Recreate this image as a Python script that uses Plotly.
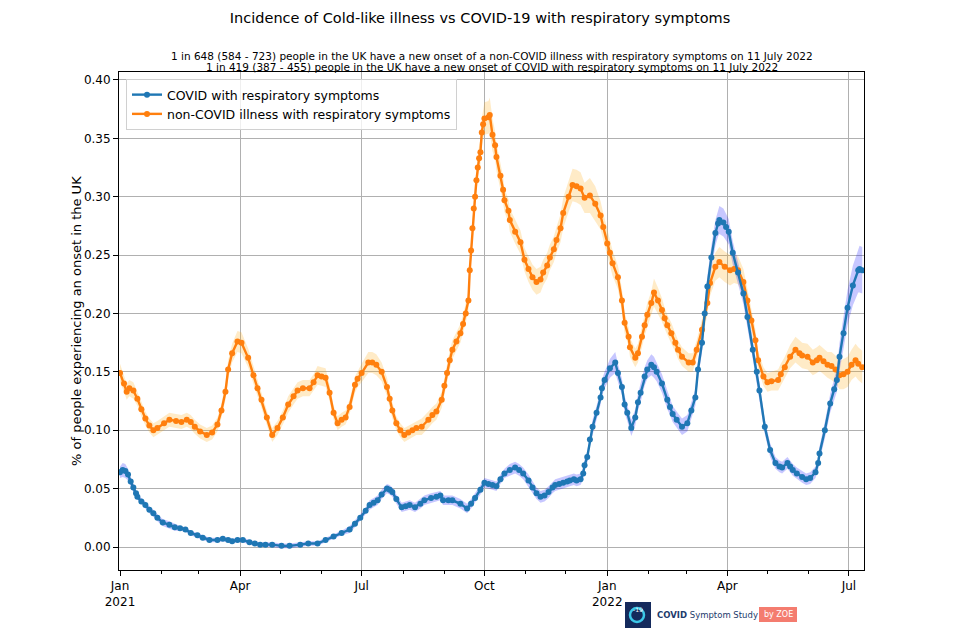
import pandas as pd
import plotly.graph_objects as go

# ---------------- data ----------------
START = "2021-01-01"  # day 0

covid_days = [0, 2, 4, 6, 8, 10, 12, 13, 16, 19,
              22, 25, 28, 32, 37, 41, 45, 49, 53, 58,
              62, 67, 73, 77, 81, 84, 88, 92, 97, 101,
              105, 109, 114, 121, 127, 135, 141, 148, 154, 160,
              166, 172, 176, 180, 184, 187, 190, 193, 196, 200,
              202, 204, 207, 211, 214, 217, 221, 225, 228, 233,
              237, 240, 242, 246, 249, 255, 260, 263, 266, 270,
              273, 276, 279, 282, 285, 288, 292, 296, 299, 302,
              306, 309, 312, 315, 318, 321, 324, 326, 329, 332,
              335, 337, 340, 342, 345, 347, 348, 350, 352, 354,
              357, 360, 361, 363, 367, 371, 373, 376, 378, 380,
              383, 386, 388, 390, 393, 395, 398, 400, 402, 406,
              410, 412, 414, 417, 421, 425, 428, 431, 433, 436,
              438, 440, 443, 446, 448, 449, 452, 454, 456, 459,
              463, 467, 470, 474, 477, 479, 483, 487, 491, 494,
              496, 500, 502, 504, 507, 511, 514, 517, 521, 523,
              524, 528, 532, 535, 537, 539, 542, 545, 549, 553,
              554, 556]
covid_vals = [.064, .066, .065, .062, .056, .051, .046, .043, .039, .036,
              .032, .029, .025, .021, .019, .017, .016, .015, .012, .010,
              .008, .006, .006, .007, .006, .005, .006, .006, .004, .003,
              .002, .002, .002, .001, .001, .002, .003, .003, .006, .009,
              .012, .015, .020, .025, .031, .036, .038, .040, .045, .050,
              .049, .047, .041, .034, .035, .036, .034, .037, .040, .042,
              .043, .044, .040, .040, .040, .037, .033, .037, .042, .049,
              .055, .054, .053, .052, .058, .063, .066, .068, .066, .063,
              .057, .051, .046, .043, .044, .047, .051, .053, .054, .055,
              .056, .057, .058, .057, .058, .063, .070, .077, .092, .103,
              .115, .128, .136, .143, .153, .158, .149, .137, .122, .115,
              .102, .111, .124, .132, .146, .152, .156, .154, .150, .140,
              .126, .120, .114, .109, .103, .106, .117, .128, .152, .175,
              .200, .223, .248, .269, .277, .280, .278, .274, .270, .252,
              .235, .217, .197, .169, .150, .134, .103, .083, .072, .069,
              .068, .072, .069, .066, .063, .060, .058, .059, .064, .072,
              .080, .100, .123, .135, .143, .163, .183, .205, .224, .237,
              .238, .237]
covid_ci = [.005, .006, .006, .005, .004, .004, .004, .003, .003, .003,
            .003, .003, .003, .003, .003, .003, .002, .002, .002, .002,
            .002, .002, .002, .002, .002, .002, .002, .002, .002, .002,
            .002, .002, .002, .002, .002, .002, .002, .002, .002, .002,
            .002, .003, .003, .003, .003, .004, .004, .004, .004, .004,
            .004, .004, .004, .004, .004, .004, .004, .004, .004, .004,
            .004, .004, .004, .004, .004, .004, .004, .004, .004, .004,
            .004, .004, .004, .004, .004, .004, .005, .005, .005, .005,
            .005, .005, .005, .005, .005, .005, .005, .005, .005, .005,
            .005, .005, .005, .005, .005, .005, .005, .005, .005, .006,
            .006, .006, .007, .007, .008, .009, .008, .007, .007, .007,
            .007, .007, .007, .008, .008, .008, .009, .009, .008, .008,
            .008, .007, .007, .007, .007, .007, .007, .007, .008, .008,
            .009, .009, .010, .011, .011, .012, .012, .011, .011, .010,
            .010, .009, .009, .008, .008, .007, .006, .006, .005, .005,
            .005, .005, .005, .005, .005, .005, .005, .005, .005, .006,
            .006, .007, .008, .009, .010, .012, .013, .015, .017, .019,
            .020, .020]

cold_days = [0, 3, 5, 7, 10, 13, 16, 19, 22, 25,
             28, 33, 37, 42, 46, 50, 53, 56, 60, 65,
             69, 73, 76, 79, 81, 84, 88, 91, 96, 100,
             103, 106, 110, 114, 118, 122, 126, 130, 133, 137,
             142, 145, 148, 151, 154, 157, 160, 163, 166, 169,
             172, 176, 178, 181, 186, 189, 192, 196, 200, 202,
             204, 207, 210, 213, 216, 219, 222, 226, 231, 234,
             237, 241, 243, 245, 247, 249, 252, 255, 257, 259,
             261, 262, 263, 264, 265, 266, 267, 268, 269, 270,
             271, 272, 273, 276, 277, 279, 281, 282, 285, 287,
             288, 291, 292, 296, 300, 303, 306, 309, 312, 315,
             317, 320, 322, 325, 327, 330, 332, 336, 339, 342,
             345, 348, 352, 356, 360, 362, 365, 367, 369, 373,
             376, 378, 381, 382, 386, 388, 391, 393, 395, 398,
             400, 403, 406, 408, 410, 413, 416, 418, 421, 426,
             429, 432, 436, 440, 442, 446, 449, 453, 457, 460,
             463, 467, 470, 473, 476, 478, 482, 485, 488, 493,
             495, 498, 502, 506, 509, 511, 515, 519, 522, 524,
             527, 530, 533, 536, 539, 542, 545, 548, 551, 553,
             556]
cold_vals = [.149, .140, .133, .136, .134, .127, .118, .110, .104, .100,
             .102, .106, .109, .108, .107, .109, .107, .103, .099, .096,
             .098, .105, .117, .133, .152, .166, .176, .175, .162, .147,
             .136, .126, .111, .096, .102, .111, .122, .129, .134, .136,
             .136, .141, .147, .146, .145, .132, .115, .106, .109, .111,
             .120, .139, .144, .149, .158, .158, .156, .150, .137, .127,
             .117, .106, .100, .096, .098, .100, .102, .103, .109, .113,
             .116, .126, .138, .149, .160, .169, .176, .183, .191, .200,
             .211, .237, .254, .273, .290, .300, .314, .325, .333, .338,
             .355, .362, .367, .368, .370, .353, .344, .334, .318, .306,
             .297, .288, .280, .270, .261, .246, .238, .231, .227, .229,
             .235, .241, .248, .255, .263, .273, .286, .300, .310, .309,
             .307, .299, .301, .294, .284, .274, .260, .252, .243, .231,
             .211, .192, .180, .171, .162, .166, .180, .190, .199, .209,
             .218, .211, .203, .196, .190, .183, .175, .169, .163, .158,
             .158, .169, .186, .209, .226, .240, .244, .240, .237, .238,
             .237, .227, .211, .194, .177, .160, .146, .141, .142, .143,
             .148, .154, .163, .169, .166, .164, .163, .158, .160, .162,
             .159, .156, .155, .152, .147, .148, .150, .156, .160, .157,
             .154]
cold_ci = [.008, .007, .007, .007, .007, .006, .006, .006, .006, .006,
           .006, .006, .006, .006, .006, .006, .006, .006, .006, .006,
           .006, .006, .006, .007, .008, .008, .009, .009, .008, .008,
           .007, .007, .006, .006, .006, .006, .007, .007, .007, .007,
           .007, .007, .008, .008, .008, .007, .006, .006, .006, .006,
           .006, .007, .007, .008, .009, .009, .009, .008, .008, .007,
           .007, .006, .006, .006, .006, .006, .006, .007, .007, .007,
           .007, .007, .007, .008, .008, .008, .008, .008, .008, .008,
           .008, .009, .009, .009, .010, .010, .010, .010, .011, .011,
           .012, .012, .014, .014, .015, .014, .012, .012, .011, .011,
           .010, .010, .010, .010, .010, .010, .011, .011, .011, .011,
           .011, .011, .011, .011, .011, .012, .013, .013, .014, .014,
           .014, .013, .015, .015, .012, .012, .012, .011, .011, .010,
           .010, .009, .008, .008, .008, .008, .009, .009, .010, .010,
           .012, .011, .010, .009, .009, .009, .008, .008, .008, .008,
           .008, .008, .009, .010, .011, .012, .013, .013, .013, .012,
           .012, .011, .010, .009, .009, .008, .008, .008, .008, .009,
           .009, .009, .010, .011, .011, .011, .011, .011, .011, .011,
           .011, .011, .012, .012, .012, .013, .013, .013, .014, .014,
           .014]

tick_dates = ["2021-01-01", "2021-04-01", "2021-07-01", "2021-10-01",
              "2022-01-01", "2022-04-01", "2022-07-01"]
tick_text = ["Jan<br>2021", "Apr", "Jul", "Oct", "Jan<br>2022", "Apr", "Jul"]
y_ticks = [0.00, 0.05, 0.10, 0.15, 0.20, 0.25, 0.30, 0.35, 0.40]

title_text = "Incidence of Cold-like illness vs COVID-19 with respiratory symptoms"
sub_line1 = ("1 in 648 (584 - 723) people in the UK have a new onset of a non-COVID illness "
             "with respiratory symptoms on 11 July 2022")
sub_line2 = ("1 in 419 (387 - 455) people in the UK have a new onset of COVID with "
             "respiratory symptoms on 11 July 2022")
y_title = "% of people experiencing an onset in the UK"

# ---------------- build ----------------
start = pd.Timestamp(START)


def to_dates(days):
    return [start + pd.Timedelta(days=d) for d in days]


FONT = "DejaVu Sans"
BLUE = "#1f77b4"
ORANGE = "#ff7f0e"

fig = go.Figure()


def add_band(days, vals, ci, color):
    d = to_dates(days)
    up = [v + c for v, c in zip(vals, ci)]
    lo = [v - c for v, c in zip(vals, ci)]
    fig.add_trace(go.Scatter(x=d + d[::-1], y=up + lo[::-1], fill="toself",
                             fillcolor=color, line=dict(width=0), mode="lines",
                             hoverinfo="skip", showlegend=False))


add_band(cold_days, cold_vals, cold_ci, "rgba(255,165,0,0.22)")
add_band(covid_days, covid_vals, covid_ci, "rgba(0,0,255,0.22)")

fig.add_trace(go.Scatter(x=to_dates(cold_days), y=cold_vals, mode="lines+markers",
                         name="non-COVID illness with respiratory symptoms",
                         line=dict(color=ORANGE, width=2.4),
                         marker=dict(color=ORANGE, size=6), legendrank=2))
fig.add_trace(go.Scatter(x=to_dates(covid_days), y=covid_vals, mode="lines+markers",
                         name="COVID with respiratory symptoms",
                         line=dict(color=BLUE, width=2.4),
                         marker=dict(color=BLUE, size=6), legendrank=1))

L, R, T, B = 119, 96, 72, 69
PW, PH = 960 - L - R, 639 - T - B


def px(x):
    return (x - L) / PW


def py(y):
    return (639 - B - y) / PH


fig.update_layout(
    width=960, height=639,
    margin=dict(l=L, r=R, t=T, b=B, autoexpand=False),
    paper_bgcolor="white", plot_bgcolor="white",
    font=dict(family=FONT, color="black", size=12),
    title=dict(text=title_text, x=0.5, xanchor="center", y=1 - 18 / 639,
               yanchor="middle", font=dict(size=14.5, family=FONT)),
    showlegend=True,
    legend=dict(x=px(126), y=py(79), xanchor="left", yanchor="top",
                bgcolor="rgba(255,255,255,0.8)", bordercolor="#d0d0d0", borderwidth=1,
                font=dict(size=12.5, family=FONT), tracegroupgap=0,
                itemwidth=30),
    xaxis=dict(range=[start - pd.Timedelta(hours=18), start + pd.Timedelta(days=557, hours=8)],
               tickvals=pd.to_datetime(tick_dates), ticktext=tick_text,
               showgrid=True, gridcolor="#b0b0b0", gridwidth=1,
               showline=True, linecolor="black", linewidth=1, mirror=True,
               ticks="outside", ticklen=5, tickcolor="black", automargin=False,
               minor=dict(dtick="M1", tick0="2021-01-01", ticks="outside", ticklen=3,
                          tickcolor="black", showgrid=False),
               tickfont=dict(size=12, family=FONT), zeroline=False),
    yaxis=dict(range=[-0.0197, 0.4068], tickvals=y_ticks, tickformat=".2f",
               showgrid=True, gridcolor="#b0b0b0", gridwidth=1,
               showline=True, linecolor="black", linewidth=1, mirror=True,
               ticks="outside", ticklen=5, tickcolor="black", automargin=False,
               tickfont=dict(size=12, family=FONT), zeroline=False),
)

fig.add_annotation(text=y_title, textangle=-90, x=px(76), y=py(321), xref="paper",
                   yref="paper", xanchor="center", yanchor="middle", showarrow=False,
                   font=dict(size=13, family=FONT))

for txt, yy in ((sub_line1, 55.5), (sub_line2, 67)):
    fig.add_annotation(text=txt, x=0.5, xref="paper", y=py(yy), yref="paper",
                       xanchor="center", yanchor="middle", showarrow=False,
                       font=dict(size=10.5, family=FONT))

# logo (COVID Symptom Study by ZOE)
fig.add_shape(type="rect", xref="paper", yref="paper", x0=px(625), x1=px(651),
              y0=py(628), y1=py(602), fillcolor="#142a5c", line=dict(width=0), layer="below")
fig.add_shape(type="circle", xref="paper", yref="paper", x0=px(630), x1=px(644),
              y0=py(622), y1=py(608), fillcolor="rgba(0,0,0,0)",
              line=dict(width=2.5, color="#3cc8e8"), layer="below")
fig.add_annotation(text="-19", x=px(645), y=py(615), xref="paper", yref="paper",
                   showarrow=False, font=dict(size=6, color="white", family=FONT))
fig.add_annotation(text="<b>COVID</b> Symptom Study", x=px(655), y=py(615),
                   xref="paper", yref="paper", xanchor="left", yanchor="middle",
                   showarrow=False, font=dict(size=8.5, color="#1c3a6b", family=FONT))
fig.add_shape(type="rect", xref="paper", yref="paper", x0=px(759), x1=px(797),
              y0=py(622), y1=py(607), fillcolor="#f47c6f", line=dict(width=0), layer="below")
fig.add_annotation(text="by ZOE", x=px(778), y=py(614.5), xref="paper", yref="paper",
                   xanchor="center", yanchor="middle",
                   showarrow=False, font=dict(size=8, color="white", family=FONT))

fig.write_html("out.html", config={"displayModeBar": False},
               post_script="document.body.style.margin='0';")
